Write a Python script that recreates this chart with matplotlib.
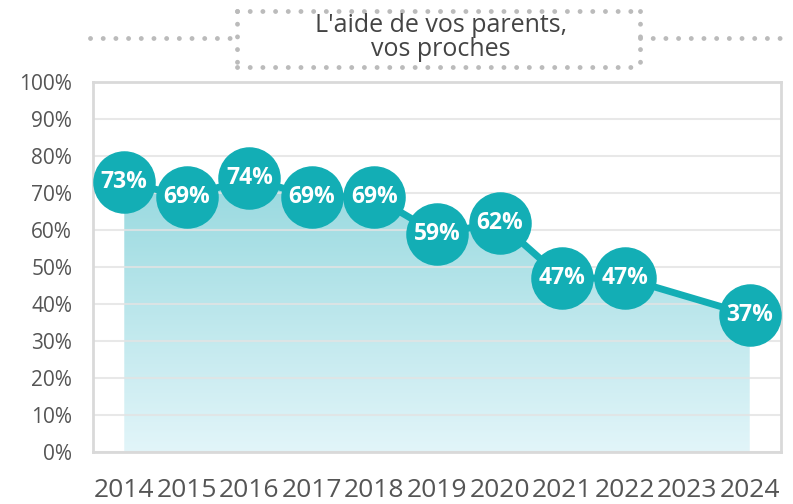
import numpy as np
import matplotlib
matplotlib.use("Agg")
import matplotlib.pyplot as plt
from matplotlib.patches import Polygon
from matplotlib.lines import Line2D
from matplotlib.colors import LinearSegmentedColormap

years = [2014, 2015, 2016, 2017, 2018, 2019, 2020, 2021, 2022, 2023, 2024]
values = [73, 69, 74, 69, 69, 59, 62, 47, 47, None, 37]
yticks = [0, 10, 20, 30, 40, 50, 60, 70, 80, 90, 100]
title_lines = ["L'aide de vos parents,", "vos proches"]

teal = "#13aeb5"
W, H = 793, 504
fig = plt.figure(figsize=(W / 100, H / 100), dpi=100)
ax = fig.add_axes([93 / W, 1 - 452 / H, (781 - 93) / W, (452 - 82) / H])
ax.set_xlim(2013.5, 2024.5)
ax.set_ylim(0, 100)

px = [y for y, v in zip(years, values) if v is not None]
pv = [v for v in values if v is not None]

# gradient fill under the line
cmap = LinearSegmentedColormap.from_list("g", ["#e2f5f9", "#97d9df"])
grad = np.linspace(0, 1, 256).reshape(-1, 1)
im = ax.imshow(grad, extent=[px[0], px[-1], 0, max(pv)], origin="lower",
               cmap=cmap, aspect="auto", zorder=1, vmin=0, vmax=1)
poly = Polygon([(px[0], 0)] + list(zip(px, pv)) + [(px[-1], 0)],
               closed=True, transform=ax.transData, facecolor="none", edgecolor="none")
ax.add_patch(poly)
im.set_clip_path(poly)

# grid
for t in yticks:
    ax.axhline(t, color="#e3e3e3", lw=1.5, zorder=2, alpha=0.8)

ax.plot(px, pv, color=teal, lw=5, zorder=3, solid_capstyle="round")
ax.plot(px, pv, "o", ms=44, color=teal, mec=teal, zorder=4)
for x, v in zip(px, pv):
    ax.text(x, v, f"{v}%", ha="center", va="center", color="white",
            fontsize=16.5, fontweight="bold", family="Open Sans", zorder=5)

for s in ax.spines.values():
    s.set_color("#d9d9d9")
    s.set_linewidth(2)
ax.set_xticks(years)
ax.set_xticklabels([str(y) for y in years], fontsize=19, family="Open Sans", color="#555555")
ax.set_yticks(yticks)
ax.set_yticklabels([f"{t}%" for t in yticks], fontsize=15, family="Open Sans", color="#555555")
ax.tick_params(length=0, axis="x", pad=19)
ax.tick_params(length=0, axis="y", pad=15)

# title box with dotted border
dot = dict(color="#bbbbbb", lw=3.5, linestyle=(0, (0.01, 2.6)), solid_capstyle="round",
           dash_capstyle="round", transform=fig.transFigure)
def fy(y): return 1 - y / H
def fx(x): return x / W
bx0, bx1, by0, by1 = 237, 640, 11, 67
for (x0, y0, x1, y1) in [(bx0, by0, bx1, by0), (bx0, by1, bx1, by1),
                         (bx0, by0, bx0, by1), (bx1, by0, bx1, by1),
                         (90, 38, bx0, 38), (bx1, 38, 790, 38)]:
    fig.add_artist(Line2D([fx(x0), fx(x1)], [fy(y0), fy(y1)], **dot))
fig.text(fx(441), fy(25), title_lines[0], ha="center", va="center",
         fontsize=18, family="Open Sans", color="#444444")
fig.text(fx(441), fy(50), title_lines[1], ha="center", va="center",
         fontsize=18, family="Open Sans", color="#444444")

fig.savefig("out.png", dpi=100)
